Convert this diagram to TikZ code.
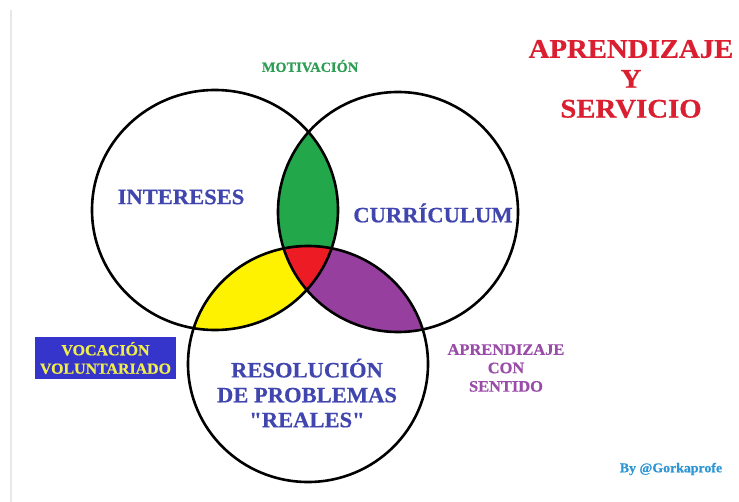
\documentclass[tikz,border=0pt]{standalone}
\usepackage{fontspec}
\setmainfont{Liberation Serif}[Ligatures=TeXOff,FakeStretch=1.03,FakeBold=0.6]
\newfontfamily\titulofont{Liberation Serif}[FakeStretch=1.07,FakeBold=0.6]
\definecolor{verde}{HTML}{22A84A}
\definecolor{amarillo}{HTML}{FFF200}
\definecolor{rojo}{HTML}{ED1C24}
\definecolor{morado}{HTML}{963F9E}
\definecolor{azultxt}{HTML}{4146AE}
\definecolor{azulcaja}{HTML}{3535CC}
\definecolor{amarillotxt}{HTML}{F0EE4A}
\definecolor{moradotxt}{HTML}{9A4DA8}
\definecolor{rojotxt}{HTML}{D91F30}
\definecolor{verdetxt}{HTML}{2F9E55}
\definecolor{celeste}{HTML}{2E96D4}
\tikzset{
  etiq/.style={font=\bfseries\fontsize{22}{25}\selectfont,text=azultxt,align=center,inner sep=0pt},
  chica/.style={font=\bfseries\fontsize{16}{18.5}\selectfont,align=center,inner sep=0pt}
}
\begin{document}
\begin{tikzpicture}[x=1bp,y=-1bp,line width=2.6bp]
  \useasboundingbox (0,0) rectangle (739,502);
  \draw[gray!18,line width=2bp] (11,10) -- (11,502);
  % zonas de cruce
  \begin{scope}
    \clip (215,210) ellipse [x radius=123bp,y radius=120bp];
    \fill[verde] (398,212) ellipse [x radius=120bp,y radius=120bp];
    \fill[amarillo] (308,364) ellipse [x radius=120bp,y radius=118bp];
  \end{scope}
  \begin{scope}
    \clip (398,212) ellipse [x radius=120bp,y radius=120bp];
    \fill[morado] (308,364) ellipse [x radius=120bp,y radius=118bp];
  \end{scope}
  \begin{scope}
    \clip (215,210) ellipse [x radius=123bp,y radius=120bp];
    \clip (398,212) ellipse [x radius=120bp,y radius=120bp];
    \fill[rojo] (308,364) ellipse [x radius=120bp,y radius=118bp];
  \end{scope}
  % circulos
  \draw (215,210) ellipse [x radius=123bp,y radius=120bp];
  \draw (398,212) ellipse [x radius=120bp,y radius=120bp];
  \draw (308,364) ellipse [x radius=120bp,y radius=118bp];
  % textos
  \node[etiq] (interes) at (181,197) {INTERESES};
  \node[etiq] (curri) at (433,213) {CURRÍCULUM};
  \node[etiq] (resol) at (307,393) {RESOLUCIÓN\\DE PROBLEMAS\\"REALES"};
  \node[chica,font=\bfseries\fontsize{14}{16}\selectfont,text=verdetxt] (motiv) at (310,66) {MOTIVACIÓN};
  \node[align=center,inner sep=0pt,font=\titulofont\bfseries\fontsize{27}{30}\selectfont,text=rojotxt] (titulo) at (631,79) {APRENDIZAJE\\Y\\SERVICIO};
  \node[chica,fill=azulcaja,text=amarillotxt,font=\bfseries\fontsize{15.5}{18.5}\selectfont,
        minimum width=141bp,minimum height=42bp] (vocac) at (105.5,358) {VOCACIÓN\\VOLUNTARIADO};
  \node[chica,text=moradotxt] (sentido) at (506,368) {APRENDIZAJE\\CON\\SENTIDO};
  \node[font=\bfseries\fontsize{13.5}{15}\selectfont,text=celeste,inner sep=0pt] (firma) at (671,469) {By @Gorkaprofe};
\end{tikzpicture}
\end{document}
